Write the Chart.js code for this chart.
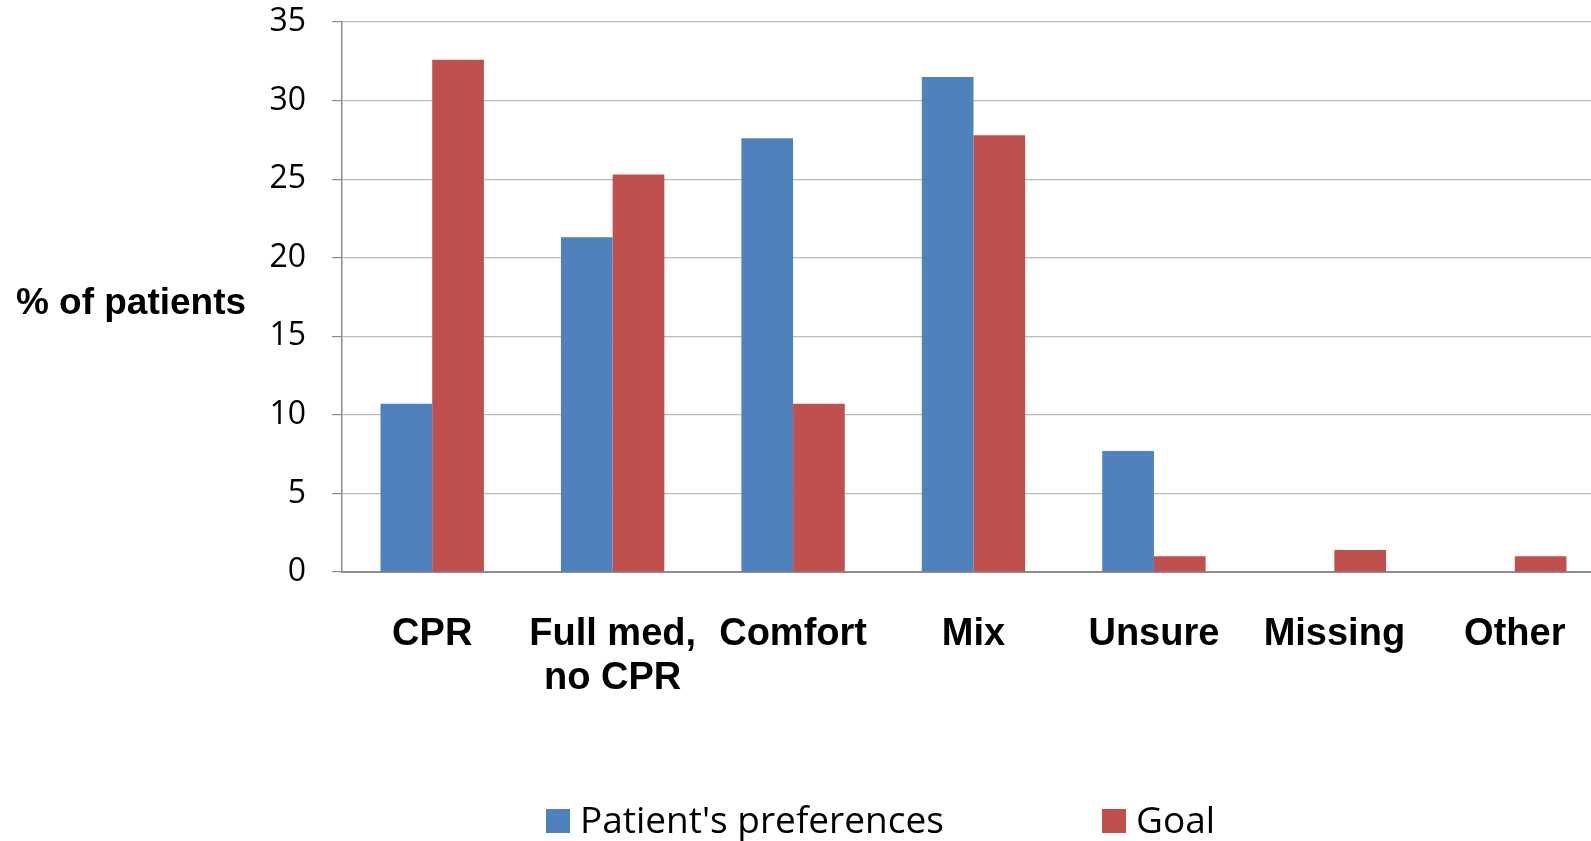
<!DOCTYPE html>
<html><head><meta charset="utf-8">
<script src="https://cdn.jsdelivr.net/npm/chart.js@4.4.1/dist/chart.umd.min.js"></script>
<style>
html,body{margin:0;padding:0;background:#fff;overflow:hidden;width:1591px;height:841px;}
#wrap{position:absolute;left:0;top:0;width:1610px;height:841px;}
</style></head><body>
<div id="wrap"><canvas id="c" width="1610" height="841"></canvas></div>
<script>
const categories = ["CPR", ["Full med,", "no CPR"], "Comfort", "Mix", "Unsure", "Missing", "Other"];
const seriesNames = ["Patient's preferences", "Goal"];
const preferences = [10.7, 21.3, 27.6, 31.5, 7.7, 0, 0];
const goal = [32.6, 25.3, 10.7, 27.8, 1.0, 1.4, 1.0];
const yTicks = [0, 5, 10, 15, 20, 25, 30, 35];
const yTitle = "% of patients";

const BLUE = '#4F81BD', RED = '#C0504D';
const boldFam = "'Liberation Sans', Arial, sans-serif";
const sans = "'Open Sans', 'Noto Sans', sans-serif";

const extras = {
  id: 'extras',
  afterDraw(chart) {
    const ctx = chart.ctx;
    ctx.save();
    // y axis title (horizontal)
    ctx.fillStyle = '#000';
    ctx.font = "bold 37px " + boldFam;
    ctx.textAlign = 'center';
    ctx.textBaseline = 'alphabetic';
    ctx.fillText(yTitle, 131, 314);
    // legend
    ctx.font = "37px " + sans;
    ctx.textAlign = 'left';
    const items = [{x: 546, tx: 580}, {x: 1102, tx: 1136}];
    chart.data.datasets.forEach((ds, i) => {
      ctx.fillStyle = ds.backgroundColor;
      ctx.fillRect(items[i].x, 809, 24, 24);
      ctx.fillStyle = '#000';
      ctx.fillText(ds.label, items[i].tx, 833);
    });
    ctx.restore();
  }
};

new Chart(document.getElementById('c'), {
  type: 'bar',
  data: {
    labels: categories,
    datasets: [
      {label: seriesNames[0], data: preferences, backgroundColor: BLUE, borderWidth: 0,
       categoryPercentage: 0.573, barPercentage: 1.0},
      {label: seriesNames[1], data: goal, backgroundColor: RED, borderWidth: 0,
       categoryPercentage: 0.573, barPercentage: 1.0}
    ]
  },
  options: {
    responsive: false,
    animation: false,
    devicePixelRatio: 1,
    layout: {padding: {left: 0, right: 5, top: 22, bottom: 0}},
    plugins: {legend: {display: false}, tooltip: {enabled: false}},
    scales: {
      x: {
        grid: {display: false, drawTicks: false},
        border: {display: true, color: '#8c8c8c', width: 2},
        ticks: {
          color: '#000', padding: 40, maxRotation: 0, minRotation: 0, autoSkip: false,
          font: {family: boldFam, size: 38, weight: 'bold', lineHeight: 1.16}
        },
        afterFit: s => { s.height = 269; }
      },
      y: {
        min: 0, max: 35,
        afterBuildTicks: s => { s.ticks = yTicks.map(v => ({value: v})); },
        grid: {color: '#bcbcbc', lineWidth: 1.2, tickLength: 10, tickColor: '#8c8c8c', drawTicks: true},
        border: {display: true, color: '#8c8c8c', width: 1.5},
        ticks: {color: '#000', padding: 26, font: {family: sans, size: 32}},
        afterFit: s => { s.width = 342; s.paddingTop = 0; s.paddingBottom = 0; }
      }
    }
  },
  plugins: [extras]
});
</script>
</body></html>
